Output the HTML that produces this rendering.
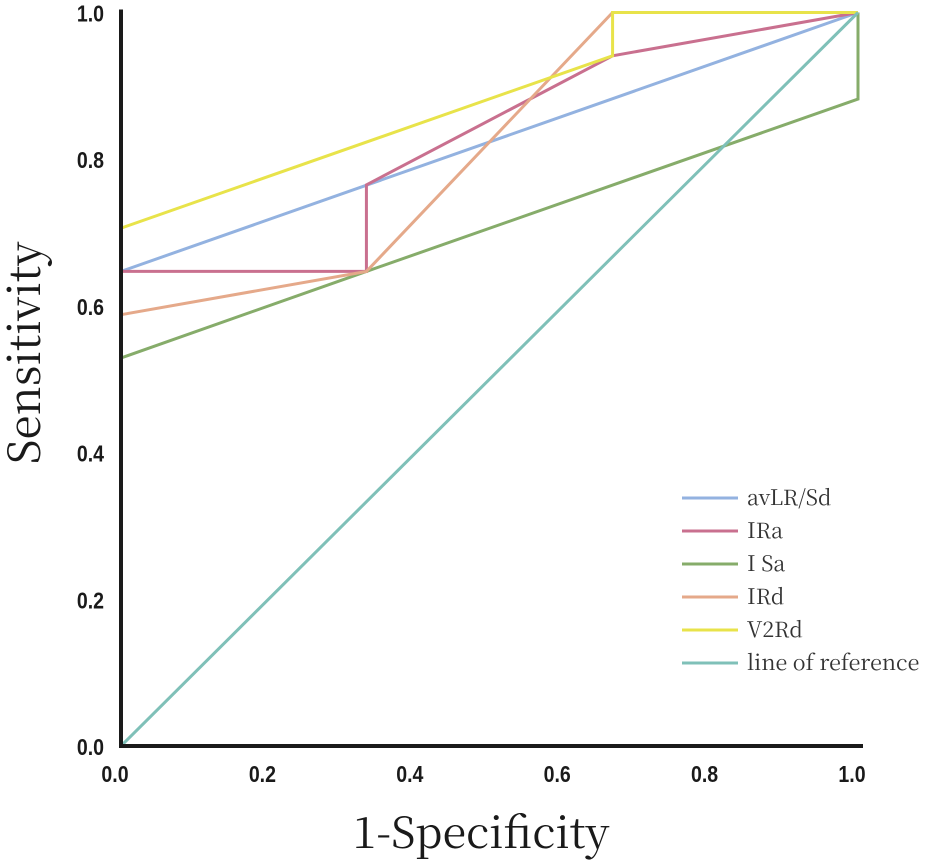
<!DOCTYPE html>
<html><head><meta charset="utf-8"><style>
body{margin:0;background:#fff;width:929px;height:862px;overflow:hidden}
</style></head><body>
<svg id="chart" width="929" height="862" xmlns="http://www.w3.org/2000/svg"></svg>
<script>
const seriesNames=["avLR/Sd","IRa","I Sa","IRd","V2Rd","line of reference"];
const seriesColors=["#93b2e0","#c9708f","#86ac6a","#e5a98a","#e8e34a","#7fc0b8"];
const xVals=[
 [0,1],
 [0,0.333,0.333,0.667,1],
 [0,0.333,1,1],
 [0,0.333,0.667,1],
 [0,0.667,0.667,1],
 [0,1]];
const yVals=[
 [0.647,1],
 [0.647,0.647,0.765,0.941,1],
 [0.529,0.647,0.882,1],
 [0.588,0.647,1,1],
 [0.706,0.941,1,1],
 [0,1]];
const tickVals=[0,0.2,0.4,0.6,0.8,1.0];
const tickLabels=["0.0","0.2","0.4","0.6","0.8","1.0"];
const NS="http://www.w3.org/2000/svg";
const svg=document.getElementById('chart');
const X0=121,X1=858,Y0=746,Y1=12.5;
const sx=v=>X0+v*(X1-X0), sy=v=>Y0-v*(Y0-Y1);
const SANS='font-family:"Liberation Sans",sans-serif';
const SERIF='font-family:"Noto Serif CJK SC","Liberation Serif",serif';
function mk(t,a){const e=document.createElementNS(NS,t);for(const k in a)e.setAttribute(k,a[k]);svg.appendChild(e);return e;}
seriesNames.forEach((n,i)=>{
 const pts=xVals[i].map((x,j)=>sx(x)+','+sy(yVals[i][j])).join(' ');
 const p=mk('polyline',{points:pts,fill:'none',stroke:seriesColors[i],'stroke-width':3,'stroke-linejoin':'miter'});
 
 
});
const ax=mk('path',{d:`M${X0} ${Y1-3} L${X0} ${Y0} L${X1+5} ${Y0}`,fill:'none',stroke:'#1a1a1a','stroke-width':4});


tickVals.forEach((v,i)=>{
 const cx=sx(v)-6;
 const t=mk('text',{x:0,y:0,'text-anchor':'middle','font-size':23,'font-weight':'bold',fill:'#1a1a1a',style:SANS,transform:`translate(${cx},782) scale(0.85,1)`});
 t.textContent=tickLabels[i];
 
 
 const u=mk('text',{x:0,y:0,'text-anchor':'end','font-size':23,'font-weight':'bold',fill:'#1a1a1a',style:SANS,transform:`translate(104,${sy(v)+9}) scale(0.85,1)`});
 u.textContent=tickLabels[i];
 
 
});
const xt=mk('text',{x:481,y:848,'text-anchor':'middle','font-size':43,fill:'#1a1a1a',style:SERIF});
xt.textContent='1-Specificity';


const yt=mk('text',{x:0,y:0,'text-anchor':'middle','font-size':44,fill:'#1a1a1a',style:SERIF,transform:'translate(40,353) rotate(-90)'});
yt.textContent='Sensitivity';


seriesNames.forEach((n,i)=>{
 const y=498+i*33;
 const l=mk('line',{x1:682,x2:738,y1:y,y2:y,stroke:seriesColors[i],'stroke-width':3});
 
 
 const t=mk('text',{x:747,y:y+7,'font-size':21.5,fill:'#333',style:SERIF});
 t.textContent=n;
 
 
});
</script>
</body></html>
